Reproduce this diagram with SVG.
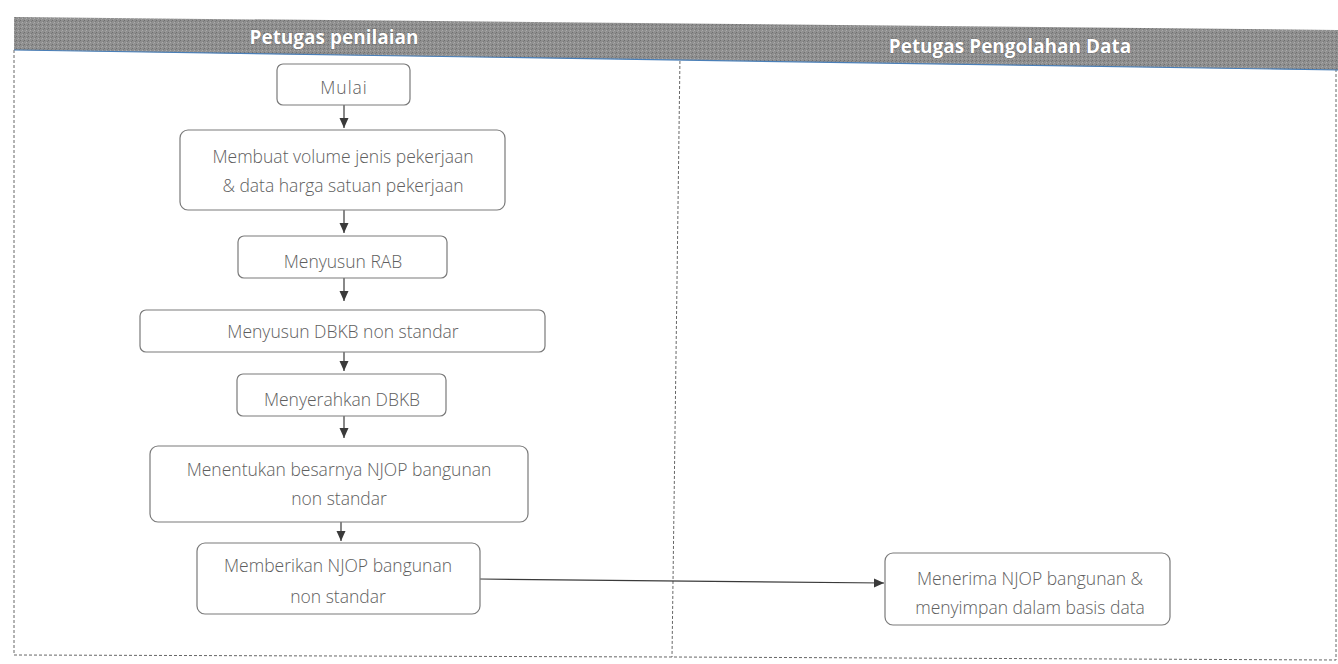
<svg xmlns="http://www.w3.org/2000/svg" width="1338" height="664" viewBox="0 0 1338 664">
<defs>
<marker id="ah" markerWidth="12" markerHeight="12" refX="10" refY="6" orient="auto" markerUnits="userSpaceOnUse">
<path d="M0,1.5 L10,6 L0,10.5 Z" fill="#3a3a3a"/>
</marker>
<pattern id="grain" width="4" height="4" patternUnits="userSpaceOnUse">
<rect width="4" height="4" fill="#8f8f8f"/>
<rect x="0" y="0" width="1" height="1" fill="#6f6f6f"/>
<rect x="2" y="2" width="1" height="1" fill="#ababab"/>
<rect x="3" y="1" width="1" height="1" fill="#797979"/>
<rect x="1" y="3" width="1" height="1" fill="#a0a0a0"/>
</pattern>
</defs>
<style>
.box{fill:#ffffff;stroke:#7a7a7a;stroke-width:1.2}
.t{font-family:"Open Sans","Liberation Sans",sans-serif;font-size:17.5px;fill:#5e5e5e;text-anchor:middle;font-weight:300}
.hd{font-family:"Open Sans","Liberation Sans",sans-serif;font-size:19px;font-weight:bold;fill:#ffffff;text-anchor:middle;stroke:#555;stroke-width:0.6;paint-order:stroke}
.lane{fill:none;stroke:#666;stroke-width:1;stroke-dasharray:3,2}
.c{fill:none;stroke:#3a3a3a;stroke-width:1.2;marker-end:url(#ah)}
</style>
<rect width="1338" height="664" fill="#ffffff"/>
<g id="lanes">
<path class="lane" d="M14,50 L14,655 L672,657 L1336,660 L1336,68"/>
<path class="lane" d="M680,56 L672,657"/>
<polygon points="14,17 1338,30 1338,70 14,50" fill="url(#grain)"/>
<line x1="14" y1="50" x2="1338" y2="70" stroke="#4a7fb8" stroke-width="1.2"/>
<text class="hd" x="334" y="44">Petugas penilaian</text>
<text class="hd" x="1010" y="53">Petugas Pengolahan Data</text>
</g>
<g id="connectors">
<line class="c" x1="344" y1="105" x2="344" y2="128"/>
<line class="c" x1="344" y1="210" x2="344" y2="233"/>
<line class="c" x1="344" y1="278" x2="344" y2="301"/>
<line class="c" x1="344" y1="352" x2="344" y2="371"/>
<line class="c" x1="344" y1="416" x2="344" y2="438"/>
<line class="c" x1="341" y1="522" x2="341" y2="541"/>
<line class="c" x1="480" y1="579" x2="884" y2="583"/>
</g>
<g id="n1"><rect class="box" x="277" y="64" width="133" height="41" rx="6"/><text class="t" x="344" y="94" letter-spacing="1">Mulai</text></g>
<g id="n2"><rect class="box" x="180" y="130" width="325" height="80" rx="8"/><text class="t" x="343" y="163">Membuat volume jenis pekerjaan</text><text class="t" x="343" y="192">&amp; data harga satuan pekerjaan</text></g>
<g id="n3"><rect class="box" x="238" y="236" width="209" height="42" rx="6"/><text class="t" x="343" y="268">Menyusun RAB</text></g>
<g id="n4"><rect class="box" x="140" y="310" width="405" height="42" rx="6"/><text class="t" x="343" y="338">Menyusun DBKB non standar</text></g>
<g id="n5"><rect class="box" x="237" y="374" width="209" height="42" rx="6"/><text class="t" x="342" y="406">Menyerahkan DBKB</text></g>
<g id="n6"><rect class="box" x="150" y="446" width="378" height="76" rx="8"/><text class="t" x="339" y="476">Menentukan besarnya NJOP bangunan</text><text class="t" x="339" y="505">non standar</text></g>
<g id="n7"><rect class="box" x="197" y="543" width="283" height="71" rx="8"/><text class="t" x="338" y="572">Memberikan NJOP bangunan</text><text class="t" x="338" y="603">non standar</text></g>
<g id="n8"><rect class="box" x="885" y="553" width="285" height="72" rx="8"/><text class="t" x="1030" y="585">Menerima NJOP bangunan &amp;</text><text class="t" x="1030" y="614">menyimpan dalam basis data</text></g>
</svg>
